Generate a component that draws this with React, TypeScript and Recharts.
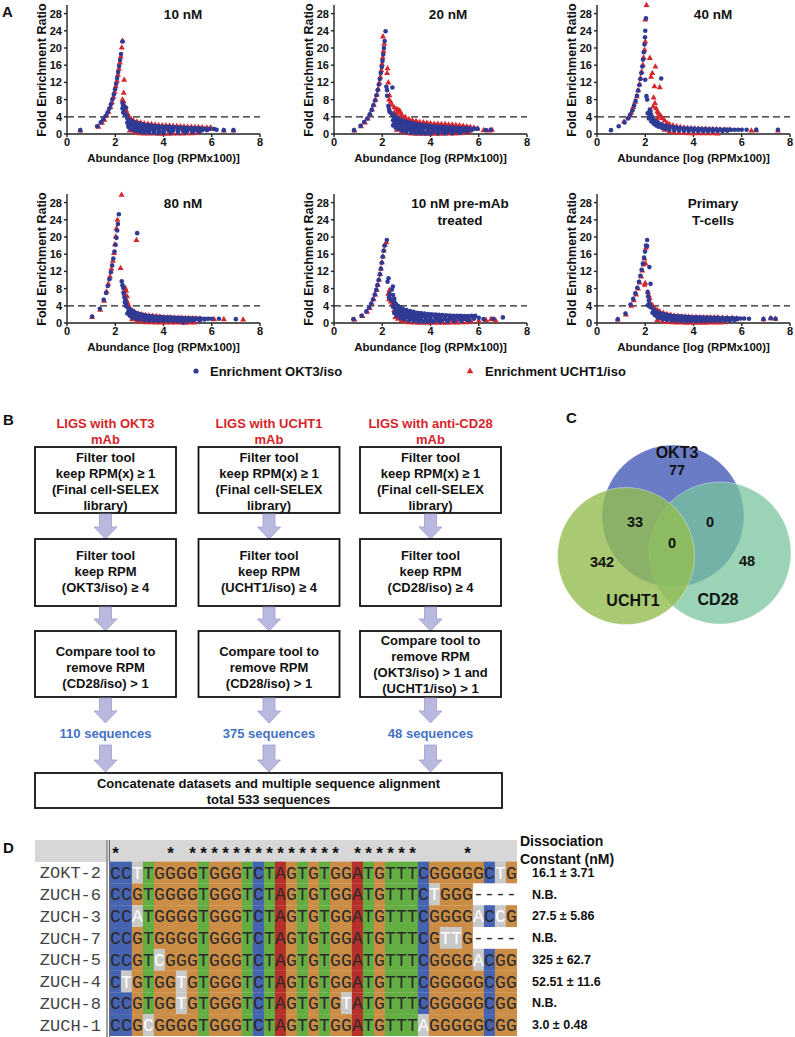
import React from 'react';
import { ScatterChart, Scatter, XAxis, YAxis, ReferenceLine } from 'recharts';

const FONT = '"Liberation Sans", Arial, Helvetica, sans-serif';
const MONO = '"Liberation Mono", "Courier New", monospace';
const OKT_COLOR = '#2f3a94';
const UCHT_COLOR = '#d7262c';

// ---------- Panel A data: [abundance, fold enrichment] ----------
const okt10 = [
  [0.55,0.9],[1.25,1.8],[1.4,2.7],[1.5,3.4],[1.6,4.2],[1.68,5.0],[1.75,5.9],[1.82,6.9],[1.88,8.0],[1.94,9.2],[1.99,10.4],[2.04,11.7],[2.08,13.0],[2.12,14.4],[2.16,15.8],[2.2,17.2],[2.24,18.6],[2.3,21.5],
  [2.3,7.2],[2.33,6.6],[2.3,6.0],[2.36,5.6],[2.33,5.0],[2.4,4.6],[2.45,6.1],[2.48,4.3],
  [2.5,3.6],[2.6,3.2],[2.7,2.9],[2.8,2.7],[2.95,2.5],[3.1,2.3],[3.25,2.1],[3.4,2.0],[3.55,1.9],[3.7,1.8],[3.85,1.75],[4.0,1.7],[4.15,1.65],[4.3,1.6],[4.45,1.55],[4.6,1.5],[4.75,1.5],[4.9,1.45],[5.05,1.4],[5.2,1.4],[5.35,1.35],[5.5,1.3],[5.7,1.25],[5.9,1.2],[6.1,1.15],
  [2.55,3.1],[2.65,2.7],[2.75,2.4],[2.9,2.1],[3.05,1.9],[3.2,1.75],[3.35,1.6],[3.5,1.5],[3.65,1.4],[3.8,1.35],[4.0,1.3],[4.2,1.25],[4.4,1.2],[4.6,1.2],[4.8,1.15],[5.0,1.1],[5.3,1.1],[5.6,1.05],
  [2.5,2.6],[2.6,2.2],[2.7,1.9],[2.85,1.7],[3.0,1.5],[3.15,1.3],[3.3,1.2],[3.45,1.1],[3.6,1.05],[3.8,1.0],[4.0,0.95],[4.2,0.9],[4.4,0.9],[4.6,0.9],[4.8,0.85],[5.0,0.85],[5.2,0.85],[5.4,0.85],[5.6,0.9],[5.8,0.9],
  [2.55,2.0],[2.65,1.6],[2.8,1.3],[2.95,1.05],[3.1,0.9],[3.25,0.8],[3.4,0.7],[3.6,0.65],[3.8,0.6],[4.0,0.6],[4.3,0.55],[4.6,0.6],[4.9,0.6],[5.2,0.6],
  [2.55,1.6],[2.65,1.2],[2.75,0.9],[2.9,0.7],[3.05,0.5],[3.2,0.4],[3.4,0.3],[3.6,0.3],[3.8,0.25],[4.0,0.25],[4.3,0.25],[4.6,0.3],[4.9,0.3],[5.2,0.4],[5.5,0.5],
  [6.2,1.0],[6.5,0.9],[6.9,0.9],
];
const ucht10 = [
  [0.55,0.8],[1.3,1.7],[1.45,2.6],[1.55,3.3],[1.65,4.3],[1.72,5.2],[1.8,6.3],[1.86,7.4],[1.92,8.6],[1.97,9.8],[2.02,11.1],[2.07,12.4],[2.11,13.8],[2.15,15.2],[2.19,16.6],[2.23,18.0],[2.27,20.1],[2.3,21.7],
  [2.37,12.6],[2.35,9.6],[2.3,8.0],[2.34,7.6],[2.4,6.5],[2.45,5.5],[2.5,4.8],[2.38,5.4],
  [2.55,4.2],[2.65,3.6],[2.75,3.2],[2.9,2.9],[3.05,2.7],[3.2,2.5],[3.35,2.4],[3.5,2.3],[3.65,2.2],[3.8,2.1],[3.95,2.05],[4.1,2.0],[4.25,1.95],[4.4,1.9],[4.55,1.85],[4.7,1.8],[4.85,1.75],[5.0,1.7],[5.15,1.65],[5.3,1.6],[5.45,1.6],[5.6,1.55],[5.8,1.5],[5.95,1.5],
  [2.6,3.3],[2.75,2.8],[2.9,2.5],[3.05,2.3],[3.2,2.1],[3.35,2.0],[3.5,1.9],[3.65,1.85],[3.8,1.8],[3.95,1.75],[4.1,1.7],[4.25,1.65],[4.4,1.6],[4.55,1.6],[4.7,1.55],[4.85,1.5],[5.0,1.5],[5.15,1.45],[5.3,1.4],
  [2.6,0.8],[2.8,0.4],[3.0,0.2],[3.2,0.1],[3.4,0.1],[3.6,0.1],[3.8,0.05],[4.0,0.05],[4.2,0.05],[4.4,0.1],[4.6,0.1],[4.8,0.1],[5.0,0.15],[5.2,0.2],[5.4,0.3],
  [6.0,1.2],[6.5,0.8],[6.9,0.8],
];
const okt20 = [
  [0.83,0.9],[1.1,1.9],[1.25,2.8],[1.38,3.6],[1.48,4.6],[1.56,5.6],[1.63,6.7],[1.7,7.8],[1.76,9.0],[1.81,10.2],[1.86,11.5],[1.9,12.8],[1.94,14.2],[1.98,15.6],[2.01,17.0],[2.04,18.5],[2.07,20.0],[2.1,21.6],[2.14,23.9],
  [2.17,11.0],[2.2,10.2],[2.42,10.8],[2.2,8.9],[2.25,6.5],[2.28,5.8],[2.3,5.2],[2.35,5.0],[2.4,4.6],
  [2.45,4.4],[2.55,4.0],[2.65,3.6],[2.75,3.3],[2.9,3.0],[3.05,2.8],[3.2,2.6],[3.35,2.4],[3.5,2.2],[3.65,2.1],[3.8,2.0],[3.95,1.9],[4.1,1.8],[4.25,1.75],[4.4,1.7],[4.55,1.6],[4.7,1.55],[4.85,1.5],[5.0,1.45],[5.15,1.4],[5.3,1.35],[5.45,1.3],[5.6,1.3],[5.8,1.25],[5.95,1.2],
  [2.5,3.8],[2.6,3.3],[2.7,2.9],[2.85,2.6],[3.0,2.3],[3.15,2.1],[3.3,1.9],[3.45,1.7],[3.6,1.6],[3.75,1.5],[3.9,1.4],[4.05,1.35],[4.2,1.3],[4.4,1.25],[4.6,1.2],[4.8,1.15],[5.0,1.15],[5.2,1.1],[5.4,1.1],
  [2.45,3.2],[2.55,2.8],[2.65,2.4],[2.8,2.1],[2.95,1.8],[3.1,1.5],[3.25,1.3],[3.4,1.2],[3.55,1.1],[3.7,1.0],[3.9,0.95],[4.1,0.9],[4.3,0.9],[4.5,0.85],[4.7,0.85],[4.9,0.85],[5.1,0.85],[5.3,0.85],[5.5,0.85],[5.7,0.9],
  [2.5,2.4],[2.6,2.0],[2.75,1.6],[2.9,1.2],[3.05,1.0],[3.2,0.8],[3.35,0.7],[3.5,0.6],[3.7,0.5],[3.9,0.5],[4.1,0.45],[4.3,0.45],[4.5,0.45],[4.7,0.5],[4.9,0.5],[5.1,0.55],[5.3,0.6],
  [2.45,2.0],[2.55,1.5],[2.7,1.1],[2.85,0.7],[3.0,0.5],[3.2,0.3],[3.4,0.2],[3.6,0.15],[3.8,0.1],[4.0,0.1],[4.3,0.1],[4.6,0.15],[4.9,0.2],[5.2,0.3],[5.5,0.45],
  [6.3,0.9],[6.5,1.0],
];
const ucht20 = [
  [0.85,0.8],[1.12,1.8],[1.28,2.7],[1.4,3.6],[1.5,4.6],[1.58,5.7],[1.65,6.8],[1.72,8.0],[1.78,9.2],[1.83,10.5],[1.88,11.9],[1.92,13.3],[1.96,14.8],[1.99,16.3],[2.02,17.8],[2.05,19.3],[2.08,21.0],[2.03,22.7],
  [2.22,15.3],[2.2,14.2],[2.25,12.0],[2.3,9.0],[2.28,8.0],[2.35,7.5],[2.4,6.8],[2.5,6.2],[2.6,5.8],[2.69,5.6],[2.75,5.2],
  [2.5,5.0],[2.6,4.8],[2.8,4.6],[2.95,4.0],[3.1,3.5],[3.25,3.2],[3.4,3.0],[3.55,2.8],[3.7,2.7],[3.85,2.6],[4.0,2.5],[4.15,2.4],[4.3,2.4],[4.45,2.3],[4.6,2.3],[4.75,2.2],[4.9,2.2],[5.05,2.1],[5.2,2.0],[5.35,1.9],[5.5,1.8],[5.65,1.7],[5.8,1.5],[5.95,1.3],
  [2.55,4.2],[2.7,3.9],[2.85,3.6],[3.0,3.3],[3.15,3.0],[3.3,2.8],[3.45,2.6],[3.6,2.4],[3.75,2.3],[3.9,2.2],[4.05,2.1],[4.2,2.0],[4.35,2.0],[4.5,1.9],[4.65,1.9],[4.8,1.8],[4.95,1.8],[5.1,1.7],[5.25,1.6],[5.4,1.5],[5.55,1.45],
  [2.6,1.0],[2.8,0.5],[3.0,0.25],[3.2,0.1],[3.4,0.05],[3.6,0.05],[3.8,0.05],[4.0,0.05],[4.2,0.05],[4.4,0.05],[4.6,0.1],[4.8,0.1],[5.0,0.1],[5.2,0.2],[5.4,0.3],[5.6,0.4],
  [6.2,0.9],[6.45,0.8],[6.55,1.0],
];
const okt40 = [
  [0.58,0.9],[0.9,1.8],[1.14,2.7],[1.28,3.6],[1.38,4.5],[1.47,5.5],[1.54,6.6],[1.6,7.7],[1.66,8.9],[1.71,10.1],[1.76,11.4],[1.8,12.8],[1.84,14.2],[1.88,15.7],[1.91,17.3],[1.94,19.0],[1.97,20.8],[1.99,22.5],[2.0,24.0],[2.03,26.9],
  [2.0,12.6],[2.05,8.8],[2.08,8.0],[2.66,12.9],[2.15,5.0],[2.19,5.7],[2.22,5.2],[2.25,4.4],[2.28,3.9],
  [2.1,4.8],[2.2,4.2],[2.3,3.6],[2.4,3.1],[2.5,2.7],[2.6,2.4],[2.7,2.2],[2.85,1.9],[3.0,1.7],[3.15,1.6],[3.3,1.5],[3.45,1.4],[3.6,1.35],[3.75,1.3],[3.9,1.25],[4.05,1.2],[4.2,1.2],[4.35,1.15],[4.5,1.15],[4.65,1.1],[4.8,1.1],[4.95,1.1],[5.1,1.05],[5.25,1.05],[5.4,1.05],[5.55,1.0],[5.7,1.0],[5.85,1.0],[6.0,1.0],
  [2.15,3.6],[2.25,2.9],[2.35,2.4],[2.45,2.0],[2.55,1.7],[2.7,1.4],[2.85,1.2],[3.0,1.0],[3.2,0.9],[3.4,0.8],[3.6,0.75],[3.8,0.7],[4.0,0.7],[4.2,0.65],[4.4,0.65],[4.6,0.65],[4.8,0.65],[5.0,0.7],[5.2,0.7],[5.4,0.75],
  [6.2,1.0],[6.6,1.0],[7.5,1.0],
];
const ucht40 = [
  [1.12,2.9],[1.3,3.9],[1.42,5.0],[1.5,6.3],[1.58,7.5],[1.65,8.8],[1.7,10.2],[1.76,11.6],[1.8,13.0],[1.85,14.5],[1.9,16.1],[1.93,17.8],[1.97,19.6],[2.0,21.5],[2.0,26.6],[2.05,30.0],
  [2.19,17.7],[2.29,14.2],[2.24,13.3],[2.42,15.7],[2.38,11.1],[2.6,10.9],[2.35,8.5],[2.4,7.2],[2.33,6.4],[2.45,6.0],[2.5,5.3],[2.55,4.9],[2.6,4.5],[2.65,4.1],[2.7,3.7],[2.5,3.6],[2.8,3.2],
  [2.9,2.6],[3.0,2.3],[3.15,2.0],[3.3,1.8],[3.45,1.65],[3.6,1.5],[3.75,1.4],[3.9,1.35],[4.05,1.3],[4.2,1.25],[4.35,1.2],[4.5,1.2],[4.65,1.15],[4.8,1.15],[4.95,1.1],[5.1,1.1],[5.3,1.05],[5.5,1.05],
  [2.8,1.0],[3.0,0.6],[3.2,0.4],[3.4,0.3],[3.6,0.25],[3.8,0.2],[4.0,0.2],[4.2,0.2],[4.4,0.2],[4.6,0.2],[4.8,0.2],[5.0,0.1],
  [6.4,0.8],[6.6,0.9],[7.5,0.8],
];
const okt80 = [
  [1.04,1.5],[1.36,3.3],[1.52,5.4],[1.62,7.0],[1.69,8.6],[1.76,10.2],[1.82,11.8],[1.87,13.4],[1.92,15.0],[1.97,16.6],[2.01,18.2],[2.05,19.8],[2.08,21.5],[2.11,23.0],[2.15,25.3],
  [2.91,20.9],[2.27,9.7],[2.3,8.8],[2.33,8.2],[2.35,7.0],[2.38,6.0],[2.42,5.4],[2.4,4.8],[2.45,4.3],
  [2.45,3.9],[2.55,3.4],[2.65,3.0],[2.75,2.7],[2.85,2.4],[3.0,2.1],[3.15,1.9],[3.3,1.7],[3.45,1.6],[3.6,1.5],[3.75,1.45],[3.9,1.4],[4.05,1.35],[4.2,1.3],[4.35,1.25],[4.5,1.2],[4.65,1.2],[4.8,1.15],[4.95,1.1],[5.1,1.1],[5.25,1.1],[5.4,1.05],[5.55,1.05],[5.7,1.0],[5.85,1.0],[6.0,1.0],
  [2.55,2.7],[2.65,2.3],[2.75,2.0],[2.9,1.7],[3.05,1.45],[3.2,1.3],[3.35,1.15],[3.5,1.05],[3.7,1.0],[3.9,0.95],[4.1,0.9],[4.3,0.85],[4.5,0.85],[4.7,0.8],[4.9,0.8],[5.1,0.8],[5.3,0.8],[5.5,0.8],[5.7,0.8],
  [2.5,2.2],[2.6,1.7],[2.7,1.3],[2.85,1.0],[3.0,0.8],[3.2,0.65],[3.4,0.55],[3.6,0.5],[3.8,0.5],[4.0,0.45],[4.2,0.45],[4.4,0.45],[4.6,0.45],[4.8,0.1],[5.0,0.45],[5.2,0.5],[5.5,0.55],
  [6.3,1.0],[7.0,0.9],
];
const ucht80 = [
  [1.04,1.4],[1.38,3.1],[1.54,5.2],[1.64,7.3],[1.71,9.1],[1.78,10.8],[1.84,12.6],[1.9,14.5],[1.95,16.3],[1.99,18.3],[2.02,20.1],[2.05,22.0],[2.09,24.0],[2.26,29.8],
  [2.22,12.8],[2.88,19.3],[2.42,8.1],[2.35,7.3],[2.49,6.2],[2.45,7.5],[2.38,6.8],[2.5,5.0],[2.55,4.2],
  [2.6,3.5],[2.7,3.0],[2.8,2.6],[2.95,2.2],[3.1,2.0],[3.25,1.85],[3.4,1.75],[3.55,1.7],[3.7,1.6],[3.85,1.5],[4.0,1.4],[4.15,1.35],[4.3,1.3],[4.45,1.25],[4.6,1.2],[4.75,1.2],[4.9,1.15],[5.05,1.15],[5.2,1.1],[5.35,1.1],[5.5,1.05],
  [2.8,1.8],[3.0,1.3],[3.2,1.0],[3.4,0.8],[3.6,0.7],[3.8,0.6],[4.0,0.55],[4.2,0.5],[4.4,0.5],[4.6,0.5],[4.8,0.45],[5.0,0.45],[5.2,0.45],
  [2.7,0.9],[2.9,0.5],[3.1,0.3],[3.3,0.2],[3.5,0.15],[3.7,0.1],[3.9,0.1],[4.1,0.1],[4.3,0.1],[4.5,0.1],[4.7,0.1],[4.9,0.05],[5.1,0.1],[5.3,0.1],
  [6.1,0.9],[6.5,0.9],[7.3,0.8],
];
const oktPre = [
  [0.8,0.9],[1.14,1.7],[1.34,2.7],[1.45,3.6],[1.54,4.5],[1.62,5.5],[1.69,6.6],[1.75,7.7],[1.8,8.8],[1.85,10.0],[1.9,11.3],[1.94,12.6],[1.98,14.0],[2.02,15.4],[2.06,16.8],[2.1,18.0],[2.19,19.3],
  [2.26,10.4],[2.22,9.6],[2.44,8.5],[2.4,7.8],[2.3,6.8],[2.28,6.0],[2.35,5.5],[2.45,6.5],[2.5,5.6],
  [2.45,5.2],[2.55,4.6],[2.65,4.0],[2.75,3.6],[2.85,3.3],[3.0,3.0],[3.15,2.8],[3.3,2.6],[3.45,2.4],[3.6,2.3],[3.75,2.2],[3.9,2.1],[4.05,2.0],[4.2,1.95],[4.35,1.9],[4.5,1.85],[4.65,1.8],[4.8,1.75],[4.95,1.7],[5.1,1.7],[5.25,1.65],[5.4,1.6],[5.55,1.6],[5.7,1.65],[5.85,1.7],[6.0,1.2],
  [2.5,4.5],[2.6,3.9],[2.7,3.3],[2.8,2.9],[2.95,2.5],[3.1,2.25],[3.25,2.05],[3.4,1.9],[3.55,1.8],[3.7,1.7],[3.85,1.65],[4.0,1.6],[4.2,1.55],[4.4,1.5],[4.6,1.45],[4.8,1.4],[5.0,1.35],[5.2,1.35],[5.4,1.3],[5.6,1.3],[5.8,1.35],
  [2.45,3.8],[2.55,3.2],[2.7,2.6],[2.85,2.2],[3.0,1.9],[3.15,1.7],[3.3,1.5],[3.45,1.4],[3.6,1.3],[3.8,1.2],[4.0,1.15],[4.2,1.1],[4.4,1.1],[4.6,1.05],[4.8,1.05],[5.0,1.0],[5.2,1.0],[5.4,1.0],[5.6,1.0],[5.8,1.0],
  [2.55,2.7],[2.65,2.2],[2.8,1.7],[2.95,1.4],[3.1,1.1],[3.25,0.95],[3.4,0.85],[3.6,0.8],[3.8,0.75],[4.0,0.7],[4.25,0.7],[4.5,0.7],[4.75,0.7],[5.0,0.7],[5.25,0.75],[5.5,0.8],
  [2.5,2.3],[2.6,1.7],[2.75,1.2],[2.9,0.9],[3.1,0.6],[3.3,0.45],[3.5,0.35],[3.7,0.3],[3.9,0.3],[4.1,0.3],[4.4,0.3],[4.7,0.35],[5.0,0.4],[5.3,0.5],[5.6,0.6],
  [6.2,0.9],[6.6,1.0],[7.0,1.3],
];
const uchtPre = [
  [0.85,0.8],[1.18,1.6],[1.37,2.6],[1.48,3.5],[1.57,4.5],[1.64,5.5],[1.71,6.6],[1.77,7.7],[1.82,8.9],[1.87,10.1],[1.91,11.4],[1.95,12.7],[1.99,14.1],[2.03,15.5],[2.07,16.9],[2.11,18.2],[2.17,18.8],
  [2.3,7.7],[2.25,6.8],[2.28,5.5],[2.35,5.0],[2.42,4.5],[2.5,3.8],
  [2.5,3.0],[2.6,2.5],[2.7,2.1],[2.85,1.8],[3.0,1.5],[3.2,1.3],[3.4,1.2],[3.6,1.1],[3.8,1.0],[4.0,1.0],[4.3,0.95],[4.6,0.95],[4.9,0.9],[5.2,0.9],[5.5,0.9],
  [2.55,1.4],[2.65,1.0],[2.8,0.6],[2.95,0.35],[3.1,0.2],[3.3,0.1],[3.5,0.05],[3.7,0.05],[3.9,0.05],[4.1,0.05],[4.3,0.05],[4.5,0.05],[4.7,0.05],[4.9,0.1],[5.1,0.1],[5.3,0.15],[5.5,0.2],[5.7,0.3],
  [6.0,0.5],[6.3,0.7],[6.5,0.9],[6.7,0.6],
];
const oktPrim = [
  [0.86,0.85],[1.18,2.2],[1.39,4.3],[1.5,5.6],[1.59,6.9],[1.67,8.2],[1.74,9.6],[1.8,11.0],[1.85,12.4],[1.9,13.8],[1.95,15.2],[1.99,16.6],[2.03,18.0],[2.08,19.3],
  [2.08,17.9],[2.17,13.0],[2.22,9.1],[2.1,7.2],[2.12,6.2],[2.15,5.2],[2.1,4.1],[2.18,4.4],[2.2,3.8],
  [2.25,3.6],[2.35,3.1],[2.45,2.7],[2.55,2.4],[2.65,2.2],[2.8,2.0],[2.95,1.85],[3.1,1.7],[3.25,1.6],[3.4,1.55],[3.55,1.5],[3.7,1.45],[3.85,1.4],[4.0,1.35],[4.15,1.3],[4.3,1.3],[4.45,1.25],[4.6,1.25],[4.75,1.2],[4.9,1.2],[5.05,1.2],[5.2,1.15],[5.35,1.15],[5.5,1.1],[5.65,1.1],[5.8,1.1],[5.95,1.05],[6.1,1.05],
  [2.35,2.7],[2.45,2.2],[2.55,1.8],[2.65,1.6],[2.8,1.4],[2.95,1.25],[3.1,1.15],[3.25,1.05],[3.4,1.0],[3.55,0.95],[3.7,0.9],[3.85,0.9],[4.0,0.85],[4.2,0.85],[4.4,0.85],[4.6,0.85],[4.8,0.85],[5.0,0.85],[5.2,0.85],[5.4,0.85],[5.6,0.9],[5.8,0.9],
  [2.3,2.4],[2.4,1.8],[2.5,1.4],[2.6,1.1],[2.75,0.9],[2.9,0.7],[3.1,0.6],[3.3,0.5],[3.5,0.45],[3.7,0.4],[3.9,0.4],[4.1,0.4],[4.3,0.4],[4.5,0.45],[4.7,0.45],[4.9,0.5],[5.1,0.5],[5.3,0.55],[5.5,0.6],[5.7,0.7],
  [6.3,1.0],[6.9,0.9],[7.2,1.1],[7.4,1.0],
];
const uchtPrim = [
  [0.86,0.8],[1.2,2.0],[1.42,4.0],[1.53,5.3],[1.62,6.6],[1.7,8.0],[1.77,9.4],[1.83,10.8],[1.88,12.2],[1.93,13.6],[1.97,15.0],[2.01,13.9],[2.03,17.5],
  [1.97,8.9],[2.0,9.3],[2.11,7.2],[2.15,6.4],[2.18,5.8],[2.2,4.6],[2.3,4.2],
  [2.4,3.4],[2.5,3.0],[2.6,2.7],[2.75,2.4],[2.9,2.1],[3.05,1.9],[3.2,1.75],[3.35,1.65],[3.5,1.55],[3.65,1.5],[3.8,1.45],[3.95,1.4],[4.1,1.4],[4.25,1.35],[4.4,1.35],[4.55,1.3],[4.7,1.3],[4.85,1.3],[5.0,1.3],[5.2,1.25],[5.4,1.2],[5.6,1.2],[5.8,1.1],
  [2.55,2.0],[2.7,1.5],[2.85,1.1],[3.0,0.8],[3.2,0.6],[3.4,0.45],[3.6,0.4],[3.8,0.35],[4.0,0.3],[4.2,0.3],[4.4,0.3],[4.6,0.3],[4.8,0.3],[5.0,0.35],
  [2.5,0.7],[2.7,0.4],[2.9,0.25],[3.1,0.15],[3.3,0.1],[3.5,0.1],[3.7,0.05],[3.9,0.05],[4.1,0.05],[4.3,0.05],[4.5,0.05],[4.7,0.1],[4.9,0.1],[5.1,0.1],[5.3,0.15],
  [6.9,0.9],[7.2,1.1],[7.4,1.0],
];

const xTicks = [0, 2, 4, 6, 8];
const yTicks = [0, 4, 8, 12, 16, 20, 24, 28];
const cutoff = 4;
const panelTitles = [['10 nM'], ['20 nM'], ['40 nM'], ['80 nM'], ['10 nM pre-mAb', 'treated'], ['Primary', 'T-cells']];
const panelSeries = [[okt10, ucht10], [okt20, ucht20], [okt40, ucht40], [okt80, ucht80], [oktPre, uchtPre], [oktPrim, uchtPrim]];
const legendNames = ['Enrichment OKT3/iso', 'Enrichment UCHT1/iso'];

// layout of the six plots (plot-area left/top in px, title centre)
const plotLayout = [
  { left: 67, top: 5, tx: 183, ty: 14 },
  { left: 334, top: 5, tx: 448, ty: 14 },
  { left: 597, top: 5, tx: 713, ty: 14 },
  { left: 67, top: 194, tx: 183, ty: 203 },
  { left: 334, top: 194, tx: 460, ty: 203 },
  { left: 597, top: 194, tx: 713, ty: 203 },
];
const PW = 193;
const PH = 129;

// ---------- Panel B ----------
const flowCols = [
  { head: ['LIGS with OKT3', 'mAb'], f1: ['Filter tool', 'keep RPM(x) ≥ 1', '(Final cell-SELEX', 'library)'], f2: ['Filter tool', 'keep RPM', '(OKT3/iso) ≥ 4'], f3: ['Compare tool to', 'remove RPM', '(CD28/iso) > 1'], count: '110 sequences' },
  { head: ['LIGS with UCHT1', 'mAb'], f1: ['Filter tool', 'keep RPM(x) ≥ 1', '(Final cell-SELEX', 'library)'], f2: ['Filter tool', 'keep RPM', '(UCHT1/iso) ≥ 4'], f3: ['Compare tool to', 'remove RPM', '(CD28/iso) > 1'], count: '375 sequences' },
  { head: ['LIGS with anti-CD28', 'mAb'], f1: ['Filter tool', 'keep RPM(x) ≥ 1', '(Final cell-SELEX', 'library)'], f2: ['Filter tool', 'keep RPM', '(CD28/iso) ≥ 4'], f3: ['Compare tool to', 'remove RPM', '(OKT3/iso) > 1 and', '(UCHT1/iso) > 1'], count: '48 sequences' },
];
const finalStep = ['Concatenate datasets and multiple sequence alignment', 'total 533 sequences'];
const colCenters = [105.5, 269, 430.5];

// ---------- Panel C ----------
const vennSetNames = ['OKT3', 'UCHT1', 'CD28'];
const vennCounts = [77, 33, 0, 0, 342, 48]; // OKT3 only, OKT3∩UCHT1, OKT3∩CD28, all three, UCHT1 only, CD28 only
const vennCircles = [
  { x: 11.8, y: 11.9, r: 7.1, fill: '#6a7cc6', op: 1 },
  { x: 16.5, y: 8.2, r: 7.1, fill: '#78c49d', op: 0.75 },
  { x: 7.1, y: 7.9, r: 6.85, fill: '#94bd50', op: 0.8 },
];
const vennNameSpots = [[12.2, 18.3], [7.8, 3.5], [16.3, 3.6]];
const vennCountSpots = [[12.2, 16.5], [8.0, 11.3], [15.5, 11.3], [11.7, 9.2], [4.7, 7.3], [19.2, 7.4]];

// ---------- Panel D ----------
const seqNames = ['ZOKT-2', 'ZUCH-6', 'ZUCH-3', 'ZUCH-7', 'ZUCH-5', 'ZUCH-4', 'ZUCH-8', 'ZUCH-1'];
const sequences = [
  'CCTTGGGGTGGGTCTAGTGTGGATGTTTCGGGGGCTG',
  'CCGTGGGGTGGGTCTAGTGTGGATGTTTCTGGG----',
  'CCATGGGGTGGGTCTAGTGTGGATGTTTCGGGGACCG',
  'CCGTGGGGTGGGTCTAGTGTGGATGTTTCGTTG----',
  'CCGTCGGGTGGGTCTAGTGTGGATGTTTCGGGGACGG',
  'CTGTGGTGTGGGTCTAGTGTGGATGTTTCGGGGGCGG',
  'CCGTGGTGTGGGTCTAGTGTGTATGTTTCGGGGGCGG',
  'CCGCGGGGTGGGTCTAGTGTGGATGTTTAGGGGGCGG',
];
const kdValues = ['16.1 ± 3.71', 'N.B.', '27.5 ± 5.86', 'N.B.', '325 ± 62.7', '52.51 ± 11.6', 'N.B.', '3.0 ± 0.48'];
const baseColors: Record<string, string> = { A: '#b5302a', C: '#4563b1', G: '#cb8d45', T: '#63ad43' };

const nCols = sequences[0].length;
const consensus = Array.from({ length: nCols }, (_, c) => {
  const counts: Record<string, number> = {};
  sequences.forEach((s) => { if (s[c] !== '-') counts[s[c]] = (counts[s[c]] || 0) + 1; });
  return Object.keys(counts).sort((a, b) => counts[b] - counts[a])[0];
});
const alignCells: any[] = [];
sequences.forEach((s, r) => {
  s.split('').forEach((ch, c) => {
    let bg = '#ffffff';
    let fg = '#2a2a2a';
    if (ch !== '-') {
      if (ch === consensus[c]) bg = baseColors[ch];
      else { bg = '#c9c9c9'; fg = '#ffffff'; }
    }
    alignCells.push({ x: c, y: r, ch, bg, fg });
  });
});
const starCells = consensus
  .map((b, c) => ({ x: c, y: -1, ch: '*', keep: sequences.every((s) => s[c] === b) }))
  .filter((d) => d.keep);

const toPts = (a: number[][]) => a.map(([x, y]) => ({ x, y }));

const dotShape = (p: any) => <circle cx={p.cx} cy={p.cy} r={2.3} fill={OKT_COLOR} />;
const triShape = (p: any) => (
  <path d={`M${p.cx},${p.cy - 3.3}L${p.cx + 3},${p.cy + 2}L${p.cx - 3},${p.cy + 2}Z`} fill={UCHT_COLOR} />
);

const tickStyle = { fontSize: 11, fontWeight: 700, fill: '#111', fontFamily: FONT };
const YW = 32;

function EnrichPlot({ idx }: { idx: number }) {
  const L = plotLayout[idx];
  const [okt, ucht] = panelSeries[idx];
  return (
    <>
      <div style={{ position: 'absolute', left: L.left - YW, top: L.top - 5 }}>
        <ScatterChart width={YW + PW + 12} height={5 + PH + 18} margin={{ top: 5, right: 12, bottom: 0, left: 0 }}>
          <XAxis type="number" dataKey="x" domain={[0, 8]} ticks={xTicks} height={18} stroke="#222" strokeWidth={1.4}
            tickSize={3} tickMargin={1} tick={tickStyle} />
          <YAxis type="number" dataKey="y" domain={[0, 30]} ticks={yTicks} width={YW} stroke="#222" strokeWidth={1.4}
            tickSize={3} tickMargin={2} tick={tickStyle} />
          <ReferenceLine y={cutoff} stroke="#222" strokeWidth={1.3} strokeDasharray="7 4" />
          <Scatter data={toPts(ucht)} shape={triShape} isAnimationActive={false} />
          <Scatter data={toPts(okt)} shape={dotShape} isAnimationActive={false} />
        </ScatterChart>
      </div>
      <div style={{ position: 'absolute', left: L.left - 25, top: L.top + PH / 2, transform: 'translate(-50%,-50%) rotate(-90deg)', whiteSpace: 'nowrap', fontFamily: FONT, fontWeight: 700, fontSize: 12.5, color: '#111' }}>
        Fold Enrichment Ratio
      </div>
      <div style={{ position: 'absolute', left: L.left + PW / 2, top: L.top + PH + 24, transform: 'translate(-50%,-50%)', whiteSpace: 'nowrap', fontFamily: FONT, fontWeight: 700, fontSize: 11.5, color: '#111' }}>
        Abundance [log (RPMx100)]
      </div>
      {panelTitles[idx].map((t, i) => (
        <div key={i} style={{ position: 'absolute', left: L.tx, top: L.ty + i * 17, transform: 'translate(-50%,-50%)', whiteSpace: 'nowrap', fontFamily: FONT, fontWeight: 700, fontSize: 13.5, color: '#111' }}>
          {t}
        </div>
      ))}
    </>
  );
}

function Arrow({ cx, y0, y1 }: { cx: number; y0: number; y1: number }) {
  const h = 12;
  const pts = [[cx - 6, y0], [cx + 6, y0], [cx + 6, y1 - h], [cx + 11.5, y1 - h], [cx, y1], [cx - 11.5, y1 - h], [cx - 6, y1 - h]];
  return <polygon points={pts.map((p) => p.join(',')).join(' ')} fill="#b9b9df" stroke="#9d9dcc" strokeWidth={0.8} />;
}

function BoxText({ cx, y, lines }: { cx: number; y: number; lines: string[] }) {
  return (
    <>
      {lines.map((t, i) => (
        <text key={i} x={cx} y={y + i * 16} textAnchor="middle" dominantBaseline="central" fontFamily={FONT} fontWeight={700} fontSize={13} fill="#111">{t}</text>
      ))}
    </>
  );
}

function FlowChart() {
  const bw = 141;
  return (
    <svg width={795} height={1037} style={{ position: 'absolute', left: 0, top: 0 }}>
      {flowCols.map((c, i) => {
        const cx = colCenters[i];
        return (
          <g key={i}>
            {c.head.map((t, j) => (
              <text key={j} x={cx} y={423 + j * 16} textAnchor="middle" dominantBaseline="central" fontFamily={FONT} fontWeight={700} fontSize={13} fill="#d5252b">{t}</text>
            ))}
            <rect x={cx - bw / 2} y={447} width={bw} height={66} fill="#fff" stroke="#111" strokeWidth={1.8} />
            <BoxText cx={cx} y={457} lines={c.f1} />
            <Arrow cx={cx} y0={514} y1={539} />
            <rect x={cx - bw / 2} y={539} width={bw} height={67} fill="#fff" stroke="#111" strokeWidth={1.8} />
            <BoxText cx={cx} y={555} lines={c.f2} />
            <Arrow cx={cx} y0={607} y1={631} />
            <rect x={cx - bw / 2} y={631} width={bw} height={66} fill="#fff" stroke="#111" strokeWidth={1.8} />
            <BoxText cx={cx} y={c.f3.length === 4 ? 640 : 651} lines={c.f3} />
            <Arrow cx={cx} y0={698} y1={723} />
            <text x={cx} y={733} textAnchor="middle" dominantBaseline="central" fontFamily={FONT} fontWeight={700} fontSize={13} fill="#4472c4">{c.count}</text>
            <Arrow cx={cx} y0={745} y1={772} />
          </g>
        );
      })}
      <rect x={35} y={773} width={467} height={35} fill="#fff" stroke="#111" strokeWidth={1.8} />
      <BoxText cx={268.5} y={783} lines={finalStep} />
    </svg>
  );
}

const vennCircleShape = (p: any) => (
  <circle cx={p.cx} cy={p.cy} r={p.payload.r * 10} fill={p.payload.fill} fillOpacity={p.payload.op} stroke="#ffffff" strokeOpacity={0.35} strokeWidth={1} />
);
const vennLabelShape = (p: any) => (
  <text x={p.cx} y={p.cy} textAnchor="middle" dominantBaseline="central" fontFamily={FONT} fontWeight={700} fontSize={p.payload.fs} fill="#111">{p.payload.label}</text>
);

function Venn() {
  const labels = [
    ...vennSetNames.map((n, i) => ({ x: vennNameSpots[i][0], y: vennNameSpots[i][1], label: n, fs: 16 })),
    ...vennCounts.map((n, i) => ({ x: vennCountSpots[i][0], y: vennCountSpots[i][1], label: String(n), fs: 14.5 })),
  ];
  return (
    <div style={{ position: 'absolute', left: 555, top: 440 }}>
      <ScatterChart width={240} height={195} margin={{ top: 0, right: 0, bottom: 0, left: 0 }}>
        <XAxis type="number" dataKey="x" domain={[0, 24]} hide />
        <YAxis type="number" dataKey="y" domain={[0, 19.5]} hide />
        <Scatter data={vennCircles} shape={vennCircleShape} isAnimationActive={false} />
        <Scatter data={labels} shape={vennLabelShape} isAnimationActive={false} />
      </ScatterChart>
    </div>
  );
}

const cellShape = (p: any) => (
  <g>
    <rect x={p.cx - 5.6} y={p.cy - 11} width={11.2} height={22} fill={p.payload.bg} />
    <text x={p.cx} y={p.cy + 1} textAnchor="middle" dominantBaseline="central" fontFamily={MONO} fontSize={18} fill={p.payload.fg}>{p.payload.ch}</text>
  </g>
);
const starShape = (p: any) => (
  <text x={p.cx} y={p.cy + 8} textAnchor="middle" fontFamily={FONT} fontWeight={700} fontSize={17} fill="#111">*</text>
);

function Alignment() {
  return (
    <>
      <div style={{ position: 'absolute', left: 35, top: 840, width: 482, height: 22, background: '#d7d7d7' }} />
      <div style={{ position: 'absolute', left: 106, top: 840, width: 1.5, height: 197, background: '#a0a0a0' }} />
      <div style={{ position: 'absolute', left: 108.5, top: 840, width: 1.5, height: 197, background: '#6a6a6a' }} />
      <div style={{ position: 'absolute', left: 35, top: 840 }}>
        <ScatterChart width={482} height={196} margin={{ top: 0, right: 0, bottom: 0, left: 0 }}>
          <XAxis type="number" dataKey="x" domain={[-0.5, nCols - 0.5]} hide />
          <YAxis type="number" dataKey="y" domain={[-1.5, seqNames.length - 0.5]} reversed width={75} interval={0}
            ticks={seqNames.map((_, i) => i)} axisLine={false} tickLine={false} tickSize={0} tickMargin={0}
            tick={(p: any) => (
              <text x={p.x - 9} y={p.y + 1} textAnchor="end" dominantBaseline="central" fontFamily={MONO} fontSize={17} fill="#444">{seqNames[p.payload.value]}</text>
            )} />
          <Scatter data={alignCells} shape={cellShape} isAnimationActive={false} />
          <Scatter data={starCells} shape={starShape} isAnimationActive={false} />
        </ScatterChart>
      </div>
      <div style={{ position: 'absolute', left: 520, top: 832, fontFamily: FONT, fontWeight: 700, fontSize: 14, lineHeight: '18px', color: '#111' }}>
        Dissociation<br />Constant (nM)
      </div>
      {kdValues.map((v, i) => (
        <div key={i} style={{ position: 'absolute', left: 532, top: 862 + 21.75 * (i + 0.5), transform: 'translateY(-50%)', whiteSpace: 'nowrap', fontFamily: FONT, fontWeight: 700, fontSize: 12.5, color: '#111' }}>
          {v}
        </div>
      ))}
    </>
  );
}

const panelLetter = (t: string, x: number, y: number) => (
  <div style={{ position: 'absolute', left: x, top: y, transform: 'translateY(-50%)', fontFamily: FONT, fontWeight: 700, fontSize: 15, color: '#111' }}>{t}</div>
);

export default function App() {
  return (
    <div style={{ position: 'absolute', left: 0, top: 0, width: 795, height: 1037, background: '#fff', overflow: 'hidden' }}>
      {panelLetter('A', 2, 11)}
      {plotLayout.map((_, i) => <EnrichPlot key={i} idx={i} />)}
      <svg width={795} height={20} style={{ position: 'absolute', left: 0, top: 361 }}>
        <circle cx={196} cy={10} r={2.6} fill={OKT_COLOR} />
        <path d="M470,6.5L473.3,12.2L466.7,12.2Z" fill={UCHT_COLOR} />
      </svg>
      <div style={{ position: 'absolute', left: 210, top: 371, transform: 'translateY(-50%)', fontFamily: FONT, fontWeight: 700, fontSize: 13, color: '#111', whiteSpace: 'nowrap' }}>{legendNames[0]}</div>
      <div style={{ position: 'absolute', left: 485, top: 371, transform: 'translateY(-50%)', fontFamily: FONT, fontWeight: 700, fontSize: 13, color: '#111', whiteSpace: 'nowrap' }}>{legendNames[1]}</div>

      {panelLetter('B', 3, 419)}
      <FlowChart />

      {panelLetter('C', 566, 417)}
      <Venn />

      {panelLetter('D', 3, 847)}
      <Alignment />
    </div>
  );
}
